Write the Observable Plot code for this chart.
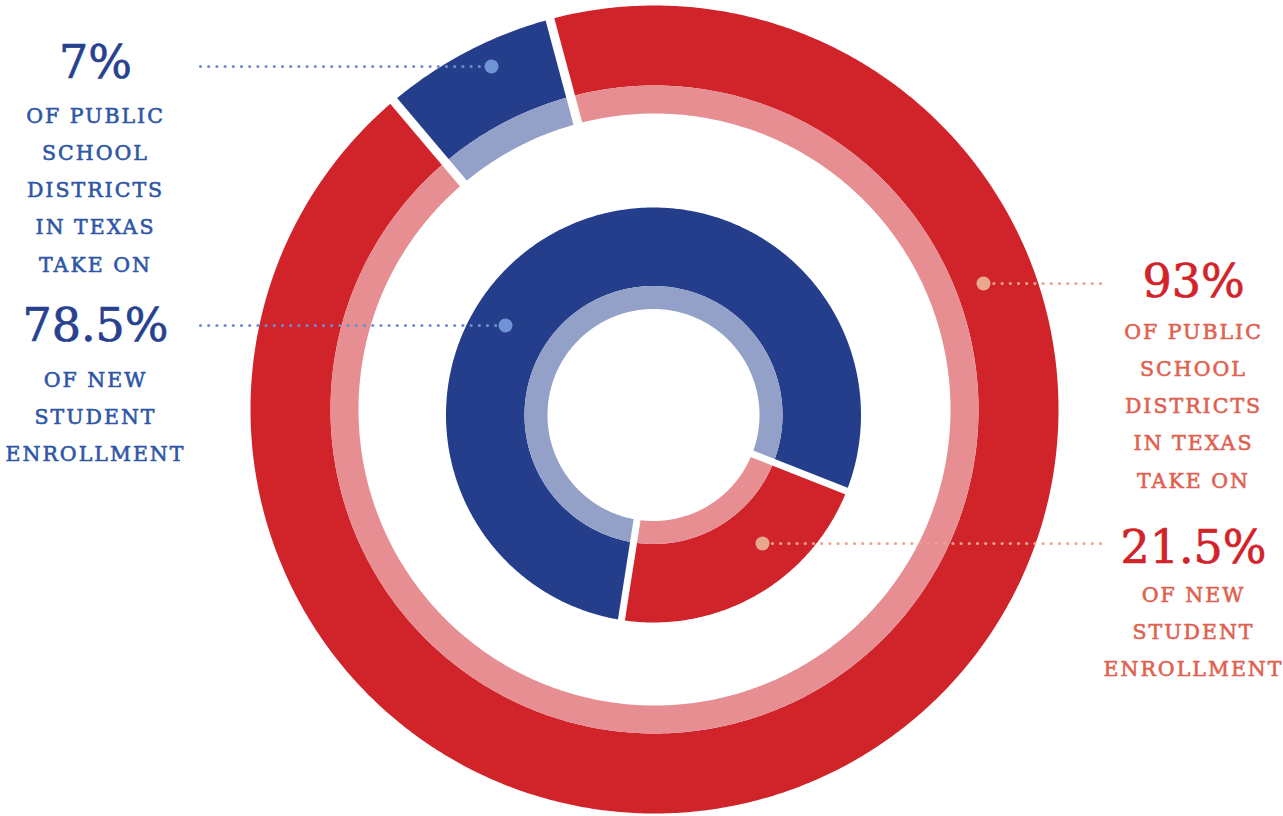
<!DOCTYPE html>
<html>
<head>
<meta charset="utf-8">
<script src="https://cdn.jsdelivr.net/npm/d3@7"></script>
<script src="https://cdn.jsdelivr.net/npm/@observablehq/plot@0.6"></script>
<style>
  html, body { margin: 0; padding: 0; background: #ffffff; }
  .caption text { letter-spacing: 2px; }
</style>
</head>
<body>
<div id="chart"></div>
<script>
// ---------- data ----------
const groups = ["Largest-growth districts", "All other districts"];
const districtShares = [7, 93];          // % of public school districts in Texas
const enrollmentShares = [78.5, 21.5];   // % of new student enrollment
const districtValueLabels = ["7%", "93%"];
const enrollmentValueLabels = ["78.5%", "21.5%"];
const districtCaption = ["OF PUBLIC", "SCHOOL", "DISTRICTS", "IN TEXAS", "TAKE ON"];
const enrollmentCaption = ["OF NEW", "STUDENT", "ENROLLMENT"];

// ---------- layout / style ----------
const W = 1283, H = 816;
const CX = 653, CY = 411;
const darkColors = ["#243E8C", "#D1232A"];
const lightColors = ["#93A1C9", "#E68E92"];
const rings = [
  {shares: districtShares, start: 319.8, cx: 654, cy: 409, rOuter: 404, rMid: 324, rInner: 296, gap: 9},
  {shares: enrollmentShares, start: 188.9, cx: 653, cy: 414.5, rOuter: 207.5, rMid: 129, rInner: 106, gap: 7}
];
const P = (x, y) => ({x: x - CX, y: CY - y}); // pixel -> centered coords (y up)
const polar = (ring, r, deg) => ({
  x: ring.cx - CX + r * Math.sin(deg * Math.PI / 180),
  y: CY - ring.cy + r * Math.cos(deg * Math.PI / 180)
});

// build band polygons from the shares
const polys = [];
const gaps = [];
rings.forEach((ring, ri) => {
  let a = ring.start;
  ring.shares.forEach((s, gi) => {
    const a0 = a, a1 = a + s * 3.6;
    const bands = [
      {r1: ring.rMid, r2: ring.rOuter, color: darkColors[gi]},
      {r1: ring.rInner, r2: ring.rMid, color: lightColors[gi]}
    ];
    bands.forEach((b, bi) => {
      const id = `${ri}-${gi}-${bi}`;
      const n = Math.max(8, Math.ceil((a1 - a0) / 0.5));
      for (let k = 0; k <= n; k++) {
        const p = polar(ring, b.r2, a0 + (a1 - a0) * k / n);
        polys.push({id, x: p.x, y: p.y, color: b.color});
      }
      for (let k = n; k >= 0; k--) {
        const p = polar(ring, b.r1, a0 + (a1 - a0) * k / n);
        polys.push({id, x: p.x, y: p.y, color: b.color});
      }
    });
    const pIn = polar(ring, ring.rInner - 10, a0), pOut = polar(ring, ring.rOuter + 10, a0);
    gaps.push({x1: pIn.x, y1: pIn.y, x2: pOut.x, y2: pOut.y, w: ring.gap});
    a = a1;
  });
});

// leaders (pixel anchor positions)
const leaders = [
  {from: P(200, 66), to: P(491, 66), line: "#6E8FCF", dot: "#6F93D3"},
  {from: P(200, 325), to: P(505, 325), line: "#6E8FCF", dot: "#6F93D3"},
  {from: P(1100, 283), to: P(983, 283), line: "#EBA48D", dot: "#E9A78F"},
  {from: P(1100, 543), to: P(762, 543), line: "#EBA48D", dot: "#E9A78F"}
];

// labels
const numberLabels = [
  {text: districtValueLabels[0], ...P(95, 77), color: "#27418F"},
  {text: enrollmentValueLabels[0], ...P(95, 340), color: "#27418F"},
  {text: districtValueLabels[1], ...P(1193, 296), color: "#D2232A"},
  {text: enrollmentValueLabels[1], ...P(1193, 562), color: "#D2232A"}
];
const captionLabels = [];
districtCaption.forEach((t, i) => captionLabels.push({text: t, ...P(95, 122 + i * 37.3), color: "#2E56A6"}));
enrollmentCaption.forEach((t, i) => captionLabels.push({text: t, ...P(95, 386 + i * 37), color: "#2E56A6"}));
districtCaption.forEach((t, i) => captionLabels.push({text: t, ...P(1193, 338 + i * 37.3), color: "#E0614F"}));
enrollmentCaption.forEach((t, i) => captionLabels.push({text: t, ...P(1193, 601 + i * 37), color: "#E0614F"}));

const chart = Plot.plot({
  width: W,
  height: H,
  margin: 0,
  x: {domain: [-CX, W - CX], axis: null},
  y: {domain: [CY - H, CY], axis: null},
  color: {type: "identity"},
  style: {fontFamily: "'DejaVu Serif', serif", background: "#ffffff"},
  marks: [
    Plot.line(polys, {x: "x", y: "y", z: "id", fill: "color", stroke: null, curve: "linear"}),
    Plot.link(gaps, {x1: "x1", y1: "y1", x2: "x2", y2: "y2", stroke: "#ffffff", strokeWidth: "w", strokeLinecap: "butt"}),
    Plot.link(leaders, {x1: d => d.from.x, y1: d => d.from.y, x2: d => d.to.x, y2: d => d.to.y,
      stroke: "line", strokeWidth: 3.2, strokeLinecap: "round", strokeDasharray: "0 8.2"}),
    Plot.dot(leaders, {x: d => d.to.x, y: d => d.to.y, r: 7, fill: "dot", stroke: null}),
    Plot.text(numberLabels, {x: "x", y: "y", text: "text", fill: "color", stroke: "color", strokeWidth: 0.7,
      fontSize: 46, textAnchor: "middle", lineAnchor: "bottom"}),
    Plot.text(captionLabels, {x: "x", y: "y", text: "text", fill: "color", stroke: "color", strokeWidth: 0.6,
      fontSize: 20.5, textAnchor: "middle", lineAnchor: "bottom", className: "caption"})
  ]
});
document.getElementById("chart").appendChild(chart);
</script>
</body>
</html>
